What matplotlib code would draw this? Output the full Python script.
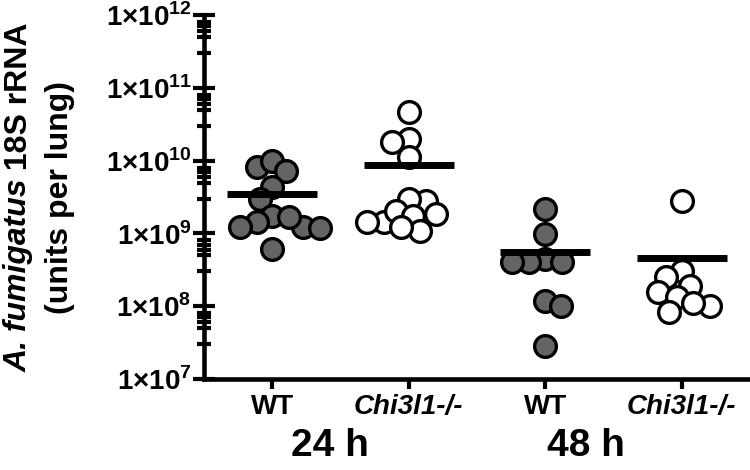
import numpy as np
import matplotlib
matplotlib.use("Agg")
import matplotlib.pyplot as plt
from matplotlib.ticker import LogLocator, FuncFormatter, NullFormatter
import matplotlib.transforms as mtransforms

# values (units per lung)
wt_24 = [8.1e9, 1.0e10, 7.3e9, 4.3e9, 3.0e9, 1.76e9, 1.42e9, 1.24e9,
         1.19e9, 1.24e9, 1.67e9, 6.2e8]
ko_24 = [4.66e10, 2.0e10, 1.8e10, 1.12e10, 2.83e9, 2.99e9, 1.86e9, 1.42e9,
         1.42e9, 2.06e9, 1.76e9, 1.09e9, 1.21e9]
wt_48 = [2.17e9, 9.8e8, 4.5e8, 4.0e8, 4.0e8, 4.0e8, 1.19e8, 1.01e8, 2.85e7]
ko_48 = [2.83e9, 3.08e8, 2.48e8, 1.91e8, 1.55e8, 1.32e8, 1.01e8, 1.12e8, 8.2e7]

groups = [wt_24, ko_24, wt_48, ko_48]
tick_labels = ["WT", "Chi3l1-/-", "WT", "Chi3l1-/-"]
time_labels = ["24 h", "48 h"]
ylabel_line1 = [("A. fumigatus", 'italic'), (" 18S rRNA", 'normal')]
ylabel_line2 = "(units per lung)"

plt.rcParams['font.family'] = 'Liberation Sans'
plt.rcParams['font.weight'] = 'bold'
plt.rcParams['mathtext.fontset'] = 'custom'
plt.rcParams['mathtext.rm'] = 'Liberation Sans:bold'
plt.rcParams['mathtext.bf'] = 'Liberation Sans:bold'

fig = plt.figure(figsize=(7.5, 4.7), dpi=100)
ax = fig.add_axes([0.272, 0.1936, 0.728, 0.7745])

ax.set_yscale('log')
ax.set_ylim(1e7, 1e12)
ax.set_xlim(-0.5, 3.5)

for s in ['top', 'right']:
    ax.spines[s].set_visible(False)
for s in ['left', 'bottom']:
    ax.spines[s].set_linewidth(3.3)

ax.yaxis.set_major_locator(LogLocator(base=10, numticks=10))
ax.yaxis.set_minor_locator(LogLocator(base=10, subs=[3, 5, 6, 7, 8], numticks=10))
ax.yaxis.set_minor_formatter(NullFormatter())
ax.yaxis.set_major_formatter(FuncFormatter(
    lambda v, p: "1×10$^{%d}$" % round(np.log10(v))))
ax.tick_params(axis='y', which='major', direction='inout', length=16,
               width=3, labelsize=20, pad=1)
ax.tick_params(axis='y', which='minor', direction='inout', length=9.5, width=3)

ax.set_xticks(range(len(groups)))
ax.set_xticklabels(tick_labels)
ax.tick_params(axis='x', direction='out', length=7, width=3,
               labelsize=20, pad=4)
for i, lab in enumerate(ax.get_xticklabels()):
    if i % 2 == 1:
        lab.set_fontstyle('italic')

trans = mtransforms.blended_transform_factory(ax.transData, ax.transAxes)
for x, t in zip([0.42, 2.30], time_labels):
    ax.text(x, -0.184, t, transform=trans, ha='center', va='center',
            fontsize=28, fontweight='bold')

fig.canvas.draw()
renderer = fig.canvas.get_renderer()

# y label: italic species name followed by upright text, rotated
lab_fs = 23
ident = mtransforms.IdentityTransform()
widths = []
for s, st in ylabel_line1:
    t = fig.text(0, 0, s, fontsize=lab_fs, fontweight='bold', style=st)
    widths.append(t.get_window_extent(renderer).width)
    t.remove()
ax_box = ax.get_window_extent(renderer)
yc = (ax_box.y0 + ax_box.y1) / 2
ystart = yc - sum(widths) / 2
for (s, st), w in zip(ylabel_line1, widths):
    fig.text(27, ystart, s, fontsize=lab_fs, fontweight='bold', style=st,
             rotation=90, ha='left', va='baseline', rotation_mode='anchor',
             transform=ident)
    ystart += w
fig.text(68, yc, ylabel_line2, fontsize=lab_fs, fontweight='bold',
         rotation=90, ha='center', va='baseline', rotation_mode='anchor',
         transform=ident)

# simple beeswarm layout in pixel space, balanced left/right
px_per_x = ax.transData.transform((1, 1e9))[0] - ax.transData.transform((0, 1e9))[0]
min_d = 17.0


def swarm(vals):
    py = np.array([ax.transData.transform((0, v))[1] for v in vals])
    order = np.argsort(-py)
    placed = []
    offs = np.zeros(len(vals))
    for k in order:
        cands = [0.0]
        for (xj, yj) in placed:
            dy = py[k] - yj
            if abs(dy) < min_d:
                w = np.sqrt(min_d ** 2 - dy ** 2)
                cands += [xj - w, xj + w]
        ok = [c for c in cands
              if all((c - xj) ** 2 + (py[k] - yj) ** 2 >= min_d ** 2 - 1e-6
                     for (xj, yj) in placed)]
        bal = sum(np.sign(xj) for xj, _ in placed)
        best = min(ok, key=lambda c: (round(abs(c) / 4), np.sign(c) * bal))
        placed.append((best, py[k]))
        offs[k] = best
    return offs / px_per_x


fills = ['#646464', 'white', '#646464', 'white']
for i, vals in enumerate(groups):
    xs = i + swarm(vals)
    ax.scatter(xs, vals, s=245, facecolor=fills[i], edgecolor='black',
               linewidth=2.4, zorder=3, clip_on=False)
    m = np.mean(vals)
    ax.hlines(m, i - 0.33, i + 0.33, color='black', linewidth=5, zorder=4)

fig.savefig('out.png', dpi=100)
